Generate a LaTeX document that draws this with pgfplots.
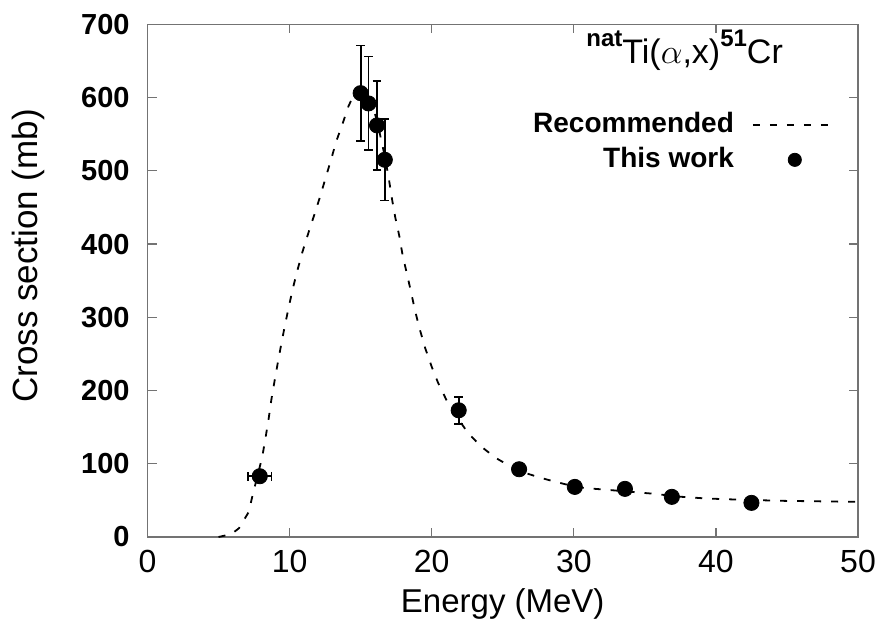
\documentclass[border=0pt]{standalone}
\usepackage{fontspec}
\setmainfont{Liberation Sans}
\usepackage{pgfplots}
\pgfplotsset{compat=1.18}
\pgfplotsset{
  dashleg/.style={legend image code/.code={\draw[##1] (0pt,0pt) -- (42pt,0pt);}},
  markleg/.style={legend image code/.code={%
    \draw[mark repeat=2,mark phase=2,##1,mark size=3.3pt]
      plot coordinates {(0pt,0pt) (21pt,0pt) (42pt,0pt)};}},
}

% measured points, errors in x and y
\pgfplotstableread{
x      y     ex    ey
7.90   83    0.82  0
15.00  606   0     65
15.55  592   0     64
16.15  562   0     60.5
16.70  515   0     55.5
21.90  173   0     18.5
26.15  92.5  0     0
30.07  68.4  0     0
33.60  65.7  0     0
36.90  54.8  0     0
42.50  46.6  0     0
}\thiswork

\pgfplotstableread{
x      y
5.00   0
5.90   4
6.44   12
7.12   34
7.42   59
7.75   84
8.08   110
8.32   137
8.53   162
8.72   188
8.95   214
9.18   239
9.42   264
9.66   288
9.92   312
10.20  337
10.52  362
10.90  389
11.32  415
11.74  440
12.15  465
12.53  490
12.93  516
13.28  540
13.74  565
14.14  588
14.50  603
14.90  610
15.30  607
15.70  594
16.10  572
16.45  542
16.75  515
17.00  487
17.21  461
17.44  436
17.72  411
17.95  385
18.26  359
18.54  335
18.84  308
19.17  283
19.54  258
19.99  233
20.46  210
21.04  187
21.80  163
22.56  142
23.45  124
24.50  108
25.50  97
26.50  88
27.30  83
28.10  78.5
29.40  72
30.70  67
32.60  64
35.40  59.4
37.50  55
39.30  52.6
41.60  51
44.90  49.3
46.50  48.9
49.80  48
50.00  48
}\recommended

\begin{document}
\begin{tikzpicture}
\useasboundingbox (-73.75pt,-50pt) rectangle (369.75pt,268.5pt);
\begin{axis}[
  at={(0,0)}, anchor=south west,
  scale only axis, width=355.25pt, height=256.35pt,
  xmin=0, xmax=50, ymin=0, ymax=700,
  xtick={0,10,...,50}, ytick={0,100,...,700},
  tick align=inside, major tick length=4.5pt,
  axis line style={black!55,line width=0.6pt},
  every tick/.style={black!55,line width=0.6pt},
  /pgf/number format/assume math mode=true,
  xticklabel style={font=\fontsize{16}{18}\selectfont,inner sep=0pt,yshift=-6.5pt},
  yticklabel style={font=\fontsize{14.5}{16}\selectfont\bfseries,inner sep=0pt,xshift=-8.75pt},
  xlabel={Energy (MeV)},
  ylabel={Cross section (mb)},
  every axis x label/.style={at={(axis description cs:0.5,0)},anchor=base,
    yshift=-37.5pt,font=\fontsize{16.5}{18}\selectfont},
  every axis y label/.style={at={(axis description cs:0,0.548)},xshift=-54.75pt,
    rotate=90,anchor=base,font=\fontsize{17.5}{19}\selectfont},
  legend style={at={(axis cs:48.6,581.7)},anchor=north east,draw=none,fill=none,
    inner sep=0pt,column sep=9pt,row sep=4pt,
    nodes={inner sep=0pt,text height=10.5pt,text depth=3pt},
    font=\fontsize{14}{16}\selectfont\bfseries},
  legend cell align=right,
  legend plot pos=right,
]
  \addplot[black,line width=0.9pt,dash pattern=on 3.5pt off 5pt,dashleg]
    table[x=x,y=y] {\recommended};
  \addlegendentry{Recommended}

  \addplot[black,only marks,mark=*,mark size=3.8pt,markleg,
    error bars/.cd,x dir=both,x explicit,y dir=both,y explicit,
    error mark options={rotate=90,mark size=2.2pt,line width=0.85pt},
    error bar style={line width=0.85pt},
    ]
    table[x=x,y=y,x error=ex,y error=ey] {\thiswork};
  \addlegendentry{This work}

  \node[anchor=base] at (axis cs:37.8,646)
    {{\fontsize{12}{12}\selectfont\bfseries\raisebox{8.5pt}{nat}}%
     {\fontsize{17}{17}\selectfont Ti($\alpha$,x)}%
     {\fontsize{12}{12}\selectfont\bfseries\raisebox{8.5pt}{51}}%
     {\fontsize{17}{17}\selectfont Cr}};
\end{axis}
\end{tikzpicture}
\end{document}
